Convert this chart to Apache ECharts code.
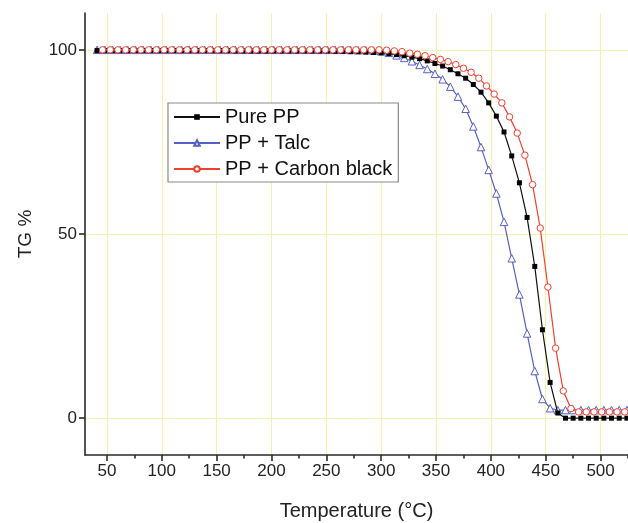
<!DOCTYPE html>
<html>
<head>
<meta charset="utf-8">
<script src="https://cdn.jsdelivr.net/npm/echarts@6/dist/echarts.min.js"></script>
<style>
html,body{margin:0;padding:0;background:#fff;}
#chart{width:628px;height:523px;}
</style>
</head>
<body>
<div id="chart"></div>
<script>
// Temperatures (°C) for Pure PP and PP + Talc
var tempsA = [41,48,55,62,69,76,83,90,97,104,111,118,125,132,139,146,153,160,167,174,181,188,195,202,209,216,223,230,237,244,251,258,265,272,279,286,293,300,307,314,321,328,335,342,349,356,363,370,377,384,391,398,405,412,419,426,433,440,447,454,461,468,475,482,489,496,503,510,517,524];
// Temperatures (°C) for PP + Carbon black
var tempsB = [46,53,60,67,74,81,88,95,102,109,116,123,130,137,144,151,158,165,172,179,186,193,200,207,214,221,228,235,242,249,256,263,270,277,284,291,298,305,312,319,326,333,340,347,354,361,368,375,382,389,396,403,410,417,424,431,438,445,452,459,466,473,480,487,494,501,508,515,522];

var pureTG = [99.8,99.8,99.8,99.8,99.8,99.8,99.8,99.8,99.8,99.8,99.8,99.8,99.8,99.8,99.8,99.8,99.8,99.8,
  99.7,99.7,99.7,99.7,99.7,99.7,99.7,99.7,99.7,99.7,99.7,99.7,99.7,
  99.6,99.6,99.5,99.5,99.4,99.3,
  99.2,99.0,98.7,98.4,98.0,97.6,97.0,96.3,95.6,94.6,93.5,92.3,90.6,88.5,85.6,82.0,77.7,71.2,63.9,54.5,41.2,24.0,9.7,1.4,
  0,0,0,0,0,0,0,0,0];
var talcTG = [100,100,100,100,100,100,100,100,100,100,100,100,100,100,100,100,100,100,100,100,100,100,100,100,100,100,100,100,100,100,100,100,100,100,99.9,99.9,99.8,
  99.6,99.2,98.5,97.8,96.9,95.9,94.8,93.5,92.0,90.0,87.3,84.0,79.2,73.6,67.4,61.0,53.3,43.4,33.6,23.0,12.8,5.2,2.7,2.2,
  2.2,2.2,2.2,2.2,2.2,2.2,2.2,2.2,2.2];
var carbonTG = [100,100,100,100,100,100,100,100,100,100,100,100,100,100,100,100,100,100,100,100,100,100,100,100,100,100,100,100,100,100,100,100,100,100,100,100,100,
  99.9,99.7,99.5,99.1,98.8,98.4,97.9,97.4,96.8,96.0,95.0,93.9,92.3,90.2,88.0,85.6,81.8,77.4,71.4,63.4,51.6,35.6,19.0,7.4,2.6,
  1.7,1.7,1.7,1.7,1.7,1.7,1.7];

var seriesNames = ['Pure PP','PP + Talc','PP + Carbon black'];
var xMajorTicks = [50,100,150,200,250,300,350,400,450,500];
var xMinorTicks = [75,125,175,225,275,325,375,425,475,525];
var yTicks = [0,50,100];

function pairs(t, v){ var out=[]; for(var i=0;i<t.length;i++){ out.push([t[i], v[i]]); } return out; }

var chart = echarts.init(document.getElementById('chart'), null, {renderer:'canvas'});
var FONT = 'Liberation Sans, Arial, sans-serif';
var gridColor = '#f6f2a8';
var axisColor = '#2a2a2a';

chart.setOption({
  animation:false,
  backgroundColor:'#fff',
  grid:{left:85, right:0, top:13, bottom:68, containLabel:false, outerBoundsMode:'none'},
  xAxis:[{
    type:'value', min:30, max:525, position:'bottom',
    name:'Temperature (°C)', nameLocation:'middle', nameGap:46,
    nameTextStyle:{fontFamily:FONT, fontSize:20, color:'#222'},
    axisLine:{show:true, onZero:false, lineStyle:{color:axisColor, width:1.6}},
    axisTick:{show:true, inside:false, length:6, customValues:xMajorTicks, lineStyle:{color:axisColor, width:1.6}},
    axisLabel:{customValues:xMajorTicks, fontFamily:FONT, fontSize:17, color:'#222', margin:8},
    splitLine:{show:true, lineStyle:{color:gridColor, width:1}}
  },{
    type:'value', min:30, max:525, position:'bottom',
    axisLine:{show:false, onZero:false},
    axisTick:{show:true, inside:false, length:3.5, customValues:xMinorTicks, lineStyle:{color:axisColor, width:1.6}},
    axisLabel:{show:false},
    splitLine:{show:false}
  }],
  yAxis:{
    type:'value', min:-10, max:110, position:'left',
    name:'TG %', nameLocation:'middle', nameGap:50, nameRotate:90,
    nameTextStyle:{fontFamily:FONT, fontSize:19, color:'#222'},
    axisLine:{show:true, onZero:false, lineStyle:{color:axisColor, width:1.6}},
    axisTick:{show:true, inside:false, length:6, customValues:yTicks, lineStyle:{color:axisColor, width:1.6}},
    axisLabel:{customValues:yTicks, fontFamily:FONT, fontSize:17, color:'#222', margin:8},
    splitLine:{show:true, lineStyle:{color:gridColor, width:1}}
  },
  legend:{
    orient:'vertical', left:168, top:103,
    data:seriesNames,
    backgroundColor:'#fff', borderColor:'#8a8a8a', borderWidth:1.2, borderRadius:0,
    padding:[4,6,3,5], itemGap:6, itemWidth:46, itemHeight:7,
    textStyle:{fontFamily:FONT, fontSize:20, color:'#111', lineHeight:20}
  },
  series:[
    {name:seriesNames[0], type:'line', data:pairs(tempsA, pureTG), symbol:'rect', symbolSize:5,
     lineStyle:{color:'#111', width:1.2}, itemStyle:{color:'#000', borderColor:'#000', borderWidth:0}, z:3},
    {name:seriesNames[1], type:'line', data:pairs(tempsA, talcTG), symbol:'triangle', symbolSize:7.5,
     lineStyle:{color:'#5560c4', width:1.2}, itemStyle:{color:'#fff', borderColor:'#5560c4', borderWidth:1}, z:2},
    {name:seriesNames[2], type:'line', data:pairs(tempsB, carbonTG), symbol:'circle', symbolSize:6.5,
     lineStyle:{color:'#f2402f', width:1.2}, itemStyle:{color:'#fff', borderColor:'#f2402f', borderWidth:1}, z:4}
  ]
});
</script>
</body>
</html>
